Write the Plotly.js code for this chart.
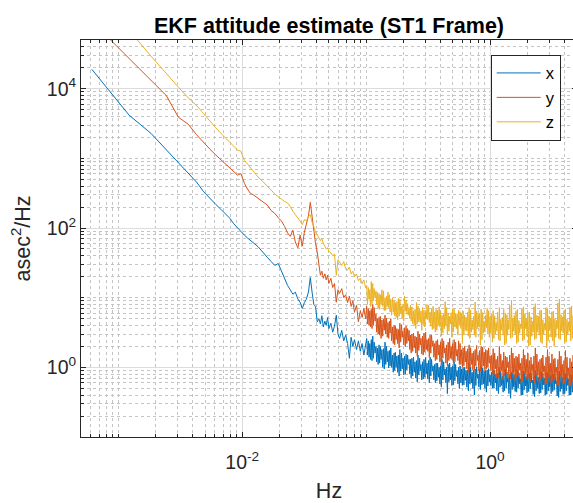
<!DOCTYPE html>
<html>
<head>
<meta charset="utf-8">
<script src="https://cdn.plot.ly/plotly-3.0.1.min.js"></script>
<style>html,body{margin:0;padding:0;overflow:hidden;background:#fff}</style>
</head>
<body>
<div id="chart"></div>
<script>
// Frequency bins (Hz), shared by the three PSD series
const freq = [
0.00061,0.00122,0.00183,0.00244,0.00305,0.00366,0.00427,0.00488,0.00549,0.0061,
0.00671,0.00732,0.00793,0.00854,0.00915,0.00976,0.0104,0.011,0.0116,0.0122,
0.0134,0.0146,0.0159,0.0171,0.0183,0.0195,0.0207,0.022,0.0232,0.0244,
0.0256,0.0268,0.0281,0.0293,0.0305,0.0317,0.0329,0.0342,0.0354,0.0366,
0.0378,0.039,0.0403,0.0415,0.0427,0.0439,0.0451,0.0464,0.0476,0.0488,
0.05,0.0519,0.0537,0.0555,0.0574,0.0592,0.061,0.0635,0.0659,0.0683,
0.0708,0.0732,0.0756,0.0781,0.0805,0.0836,0.0866,0.0897,0.0927,0.0958,0.099,
0.101,0.1025,0.104,0.1055,0.107,0.1085,0.110,0.1115,0.113,0.1145,0.116,0.118,0.120,0.1215,0.123,0.125,0.127,0.1285,0.130,0.132,
0.134,0.136,0.138,0.140,0.142,0.144,0.146,0.148,0.150,0.152,0.154,0.156,0.158,0.1605,0.163,0.1655,0.168,0.170,0.172,0.1745,
0.177,0.1795,0.182,0.1845,0.187,0.190,0.193,0.1955,0.198,0.201,0.204,0.207,0.210,0.213,0.216,0.219,0.222,0.225,0.228,0.231,
0.234,0.2375,0.241,0.2445,0.248,0.2515,0.255,0.2585,0.262,0.266,0.270,0.2735,0.277,0.281,0.285,0.289,0.293,0.2975,0.302,0.306,
0.310,0.3145,0.319,0.3235,0.328,0.3325,0.337,0.342,0.347,0.352,0.357,0.362,0.367,0.372,0.377,0.3825,0.388,0.3935,0.399,0.4045,
0.410,0.416,0.422,0.428,0.434,0.440,0.446,0.4525,0.459,0.4655,0.472,0.4785,0.485,0.492,0.499,0.506,0.513,0.520,0.527,0.5345,
0.542,0.550,0.558,0.5655,0.573,0.5815,0.590,0.598,0.606,0.615,0.624,0.6325,0.641,0.650,0.659,0.6685,0.678,0.6875,0.697,0.707,
0.717,0.727,0.737,0.7475,0.758,0.7685,0.779,0.790,0.801,0.8125,0.824,0.836,0.848,0.860,0.872,0.884,0.896,0.909,0.922,0.935,
0.948,0.961,0.974,0.987,1.00,1.015,1.03,1.045,1.06,1.075,1.09,1.105,1.12,1.135,1.15,1.17,1.19,1.205,1.22,1.24,
1.26,1.275,1.29,1.31,1.33,1.35,1.37,1.385,1.40,1.42,1.44,1.465,1.49,1.51,1.53,1.55,1.57,1.595,1.62,1.64,
1.66,1.685,1.71,1.735,1.76,1.785,1.81,1.835,1.86,1.885,1.91,1.935,1.96,1.99,2.02,2.05,2.08,2.11,2.14,2.17,
2.20,2.23,2.26,2.29,2.32,2.355,2.39,2.425,2.46,2.495,2.53,2.565,2.60,2.635,2.67,2.71,2.75,2.79,2.83,2.87,
2.91,2.95,2.99,3.03,3.07,3.115,3.16,3.205,3.25,3.295,3.34,3.39,3.44,3.485,3.53,3.58,3.63,3.685,3.74,3.79,
3.84,3.895,3.95,4.005,4.06,4.12,4.18,4.24,4.30,4.36,4.42,4.485,4.55,4.615,4.68,4.745,4.81,4.88,4.95
];

// x axis PSD (asec^2/Hz)
const psdX = [
19000,4170,2290,1320,850,600,457,331,263,219,
186,158,138,115,100,89,79,72,66,62,
54,46,38,33,29,31,24,19,15,13,
11.2,12,9.6,8.6,
7,8.5,9.5,12,19.5,12,8,7.5,4.5,5,
4.2,5.5,3.8,4.6,4.0,5.2,3.6,4.3,3.2,3.9,
5.6,3.0,2.6,3.4,2.4,2.9,2.2,1.35,2.7,2.0,
2.5,1.8,2.4,1.7,2.2,1.5,2.3,
2.6,1.5,2.4,1.4,2.2,1.3,2.5,1.25,2.8,1.35,2.3,1.6,2,
1.2,1.9,1.1,2.1,1.15,2.0,1.3,1.8,1.0,1.85,0.95,2.3,1.1,2.0,1.2,1.7,0.98,1.75,1.05,1.9,
1.0,1.5,0.85,1.6,0.9,1.65,1,1.45,0.85,1.5,0.75,1.8,0.88,1.6,0.95,1.35,0.78,1.45,0.8,1.55,0.92,1.5,1.1,1.3,
0.8,1.3,0.7,1.35,0.75,1.4,0.85,1.2,0.7,1.25,0.62,1.5,0.78,1.35,0.9,1.1,0.66,1.2,0.68,1.3,0.72,1.4,0.8,1.15,0.68,1.25,0.6,1.4,0.75,1.3,0.88,1.05,
0.66,1.1,0.6,1.15,0.64,1.15,0.72,1.0,0.58,1.05,0.52,1.3,0.66,1.2,0.78,0.95,0.6,1.0,0.42,1.1,0.62,1.15,0.66,1.0,0.55,1.05,0.56,1.2,0.64,1.1,0.74,0.9,0.58,1.0,0.5,1.05,
0.6,0.95,0.55,1.0,0.56,1.0,0.65,0.9,0.52,0.92,0.46,1.15,0.58,1.0,0.6,0.85,0.5,0.9,0.4,0.95,0.55,1.02,0.7,0.8,0.52,0.95,0.48,1.05,0.56,0.98,0.58,0.88,0.5,0.9,0.44,0.92,0.54,0.96,0.62,0.78,
0.55,0.85,0.5,0.9,0.5,0.9,0.6,0.8,0.46,0.82,0.42,1.0,0.52,0.88,0.55,0.75,0.44,0.8,0.46,0.95,0.5,0.86,0.62,0.7,0.42,0.78,0.36,0.85,0.48,0.92,0.52,0.78,0.45,0.8,0.44,0.92,0.5,0.84,0.58,0.68,
0.4,0.76,0.4,0.88,0.47,0.86,0.54,0.74,0.43,0.8,0.45,0.82,0.49,0.88,0.6,0.66,0.41,0.74,0.38,0.9,0.46,0.82,0.5,0.72,0.42,0.78,0.43,0.86,0.48,0.84,0.56,0.7,0.4,0.76,0.41,0.84,0.46,0.8,0.52,0.76,
0.42,0.78,0.45,0.8,0.47,0.82,0.58,0.64,0.39,0.72,0.37,0.88,0.45,0.8,0.49,0.72,0.41,0.76,0.42,0.82,0.46,0.8,0.55,0.68,0.4,0.74,0.4,0.78,0.44,0.76,0.5,0.74,0.45,0.72
];

// y axis PSD (asec^2/Hz)
const psdY = [
93000,26900,13200,7940,3890,3090,2190,1660,1350,1120,
955,813,708,631,575,603,437,363,316,302,
269,245,214,178,162,141,126,105,85,76,
93,63,52,79,
55,87,120,150,234,140,95,60,45,30,
21,24,19,22,18,21,16,19,14,16,
8.6,13,11.5,13.5,10,11,8.5,10.5,7.5,9,
6.2,7.8,4.5,6.5,5.2,7.0,5.0,
7.5,4.2,7,4,6.5,3.8,6.8,3.6,8,4,7.2,4.6,5.8,
3.2,5,3,5.2,2.9,5.4,2.6,4.8,2.8,4.9,3.4,5.6,3,5.1,2.7,4.4,2.6,4.6,3.1,5,
2.4,3.8,2.2,4,2.1,3.9,2.5,3.6,2.2,3.5,1.9,4.3,2.3,4.1,2.7,3.3,2.1,3.7,2,3.9,2.2,3.6,2.4,3.4,
1.8,2.9,1.6,3,1.7,3.1,1.9,2.8,1.6,2.7,1.45,3.3,1.75,3,2.1,2.6,1.55,2.8,1.5,3.1,1.65,3.2,1.8,2.5,1.7,2.6,1.4,2.9,1.6,2.9,2,2.4,
1.4,2.2,1.25,2.4,1.3,2.5,1.5,2.1,1.2,2.3,1.1,2.6,1.35,2.4,1.6,1.9,1.15,2.1,1.05,2.3,1.25,2.6,1.35,2,1.3,2.2,1.15,2.5,1.2,2.3,1.45,1.8,1.25,2.4,1.1,2.2,
1.1,1.8,1,1.9,1.05,2,1.2,1.7,0.95,1.85,0.85,2.1,1,1.9,1.1,1.6,0.92,1.7,0.9,1.8,1.05,2.05,1.25,1.5,0.9,1.75,0.88,2,1.0,1.95,1.05,1.65,0.9,1.8,0.95,1.75,1.0,1.9,1.15,1.45,
0.9,1.5,0.8,1.85,0.78,1.6,0.95,1.3,0.72,1.45,0.7,2.0,0.85,1.55,0.9,1.25,0.66,1.65,0.75,1.45,0.8,1.4,1.0,1.2,0.7,1.5,0.68,1.9,0.82,1.6,0.85,1.35,0.64,1.45,0.72,1.4,0.76,1.55,0.92,1.15,
0.6,1.35,0.62,1.8,0.8,1.5,0.82,1.3,0.68,1.6,0.7,1.25,0.62,1.4,0.9,1.1,0.7,1.45,0.6,1.9,0.75,1.55,0.78,1.2,0.6,1.3,0.66,1.35,0.72,1.5,0.86,1.05,0.58,1.4,0.58,1.8,0.7,1.45,0.74,1.15,
0.6,1.55,0.64,1.3,0.66,1.35,0.82,1.0,0.56,1.3,0.56,1.7,0.74,1.45,0.7,1.1,0.58,1.25,0.6,1.75,0.7,1.4,0.76,0.98,0.55,1.35,0.55,1.2,0.64,1.5,0.68,1.05,0.6,1.15
];

// z axis PSD (asec^2/Hz)
const psdZ = [
240000,69000,29500,16200,10500,7400,5750,4370,3390,2750,
2290,1950,1700,1480,1320,1260,933,832,741,646,
537,468,398,347,309,282,257,240,229,204,
174,158,141,126,
112,132,126,145,155,120,105,87,79,72,
66,71,60,55,50,52,46,44,40,42,
21,35,32,29,33,26,25,27.5,22,24,
20,22,17.5,19,15.8,18,13.8,
15,8,14,9.5,13,7.5,17,8.2,16,9,13.5,10,12.5,
8,12,7,11.5,6.8,11,8,13,7.5,12.5,6.5,10,6.6,10.5,7.5,12,7.2,11,6.2,9.5,
5.6,10,6.2,9,5.5,8.5,5.2,8.8,4.8,9.8,5.4,9.5,6,7.5,5,8,4.6,10.5,6.4,9.2,5.8,8.2,
5.6,7.2,5,7.8,4.6,7.4,4.2,6.5,4,6.8,3.6,8.5,4.2,7.6,4.5,6.8,4.4,6.4,3.4,7.2,4.1,6.6,3.8,6.2,5,8,4.8,7.8,4.4,6.2,3.9,6.9,3.5,7.5,
3.6,6.2,3.2,6.8,3.4,6.6,4,7.4,3.8,6.4,2.8,5.6,3.1,5.8,3.6,8.8,3.9,7.2,3,6,3.3,5.4,4.2,6.1,2.7,7,3.2,6.8,3.8,5.8,3.6,5.9,2.9,6.6,4.1,6.3,
3.6,6,2.2,6.4,2.9,5.6,3.4,5.2,3.3,6.2,2.8,7.2,2.6,6.6,3.2,4.8,3.5,5.4,2.9,8.6,2.7,6.4,3.6,5.8,3.8,5.9,2.1,6.8,2.5,6.1,3.1,4.6,3.2,5.6,3.7,7,3,6.5,2.7,5.4,
3.1,5.8,2.3,6.5,2.6,5.5,3,4.4,3.3,6.2,2.5,7.2,2.4,4.9,3.4,5.2,2.9,6.8,2.1,6,2.2,5.7,2.9,4.8,3.5,7.8,2.6,9.2,2.7,5.1,3.3,5.6,3,6.4,2.2,6.8,2.3,4.7,3.1,4.2,
3.6,7,2.4,7.4,2.5,5.9,3.6,5,2.8,6.1,2,6.2,2.1,5.3,2.8,4.6,3.2,7.4,2.5,8.2,2.6,5.6,3.2,5.4,2.9,6.6,2.3,6.6,2.2,4.8,3,4.3,3.4,7.2,1.9,7,2.4,5.4,3.5,5.1,
2.7,6.3,2.4,6.4,2,5,2.7,4.7,3.6,8.4,2.6,9.6,2.5,5.7,3.3,5.3,3.1,6.5,2.2,6.9,2.3,4.9,3,4.5,3.3,7.3,2.4,7.6,2.6,5.5,3.4,5.8,3.2,6.4
];

const seriesNames = ['x', 'y', 'z'];
const seriesColors = ['#0072BD', '#D95319', '#EDB120'];

const xTickVals = [0.01, 1];
const xTickText = ['10<sup>-2</sup>', '10<sup>0</sup>'];
const yTickVals = [1, 100, 10000];
const yTickText = ['10<sup>0</sup>', '10<sup>2</sup>', '10<sup>4</sup>'];

function minorTicks(d0, d1, majors) {
  const out = [];
  for (let d = d0; d <= d1; d++) {
    for (let m = 1; m <= 9; m++) {
      const v = m * Math.pow(10, d);
      if (m === 1 && majors.some(t => Math.abs(t - v) / v < 1e-9)) continue;
      out.push(v);
    }
  }
  return out;
}

const axisColor = '#262626';
const fontFam = '"Liberation Sans", Arial, Helvetica, sans-serif';

const traces = [psdX, psdY, psdZ].map((vals, i) => ({
  type: 'scatter',
  mode: 'lines',
  name: seriesNames[i],
  x: freq,
  y: vals,
  line: { color: seriesColors[i], width: 1 },
  hoverinfo: 'skip'
}));

function axisBase() {
  return {
    type: 'log',
    tickmode: 'array',
    ticks: 'inside',
    ticklen: 5,
    tickwidth: 1,
    tickcolor: axisColor,
    showline: true,
    linecolor: axisColor,
    linewidth: 1,
    mirror: 'ticks',
    showgrid: true,
    gridcolor: '#dcdcdc',
    gridwidth: 1,
    zeroline: false,
    automargin: false,
    tickfont: { family: fontFam, size: 19.5, color: axisColor }
  };
}

const xaxis = Object.assign(axisBase(), {
  range: [-3.302, 0.702],
  tickvals: xTickVals,
  ticktext: xTickText,
  ticklabelstandoff: 8,
  minor: { tickmode: 'array', tickvals: minorTicks(-4, 1, xTickVals), ticks: 'inside', ticklen: 3,
           tickcolor: axisColor, showgrid: true, gridcolor: '#c4c4c4', griddash: 'dot', gridwidth: 1 },
  title: { text: 'Hz', font: { family: fontFam, size: 21.5, color: axisColor }, standoff: 12 }
});

const yaxis = Object.assign(axisBase(), {
  range: [-1, 4.699],
  tickvals: yTickVals,
  ticktext: yTickText,
  minor: { tickmode: 'array', tickvals: minorTicks(-1, 5, yTickVals), ticks: 'inside', ticklen: 3,
           tickcolor: axisColor, showgrid: true, gridcolor: '#c4c4c4', griddash: 'dot', gridwidth: 1 },
  title: { text: 'asec<sup>2</sup>/Hz', font: { family: fontFam, size: 21.5, color: axisColor }, standoff: 10 }
});

const layout = {
  width: 577,
  height: 503,
  margin: { l: 81, r: 0, t: 40, b: 66, pad: 0 },
  paper_bgcolor: '#ffffff',
  plot_bgcolor: '#ffffff',
  font: { family: fontFam, color: axisColor },
  title: {
    text: '<b>EKF attitude estimate (ST1 Frame)</b>',
    font: { family: fontFam, size: 21.5, color: '#000000' },
    x: 0.5, xref: 'paper', xanchor: 'center',
    y: 1 - 25.5 / 503, yref: 'container', yanchor: 'middle'
  },
  showlegend: true,
  legend: {
    x: 0.826, y: 0.963, xanchor: 'left', yanchor: 'top',
    bgcolor: '#ffffff', bordercolor: axisColor, borderwidth: 1,
    font: { family: fontFam, size: 16.5, color: '#000000' },
    itemwidth: 44,
    tracegroupgap: 0
  },
  xaxis: xaxis,
  yaxis: yaxis
};

Plotly.newPlot('chart', traces, layout, { displayModeBar: false, staticPlot: true });
</script>
</body>
</html>
